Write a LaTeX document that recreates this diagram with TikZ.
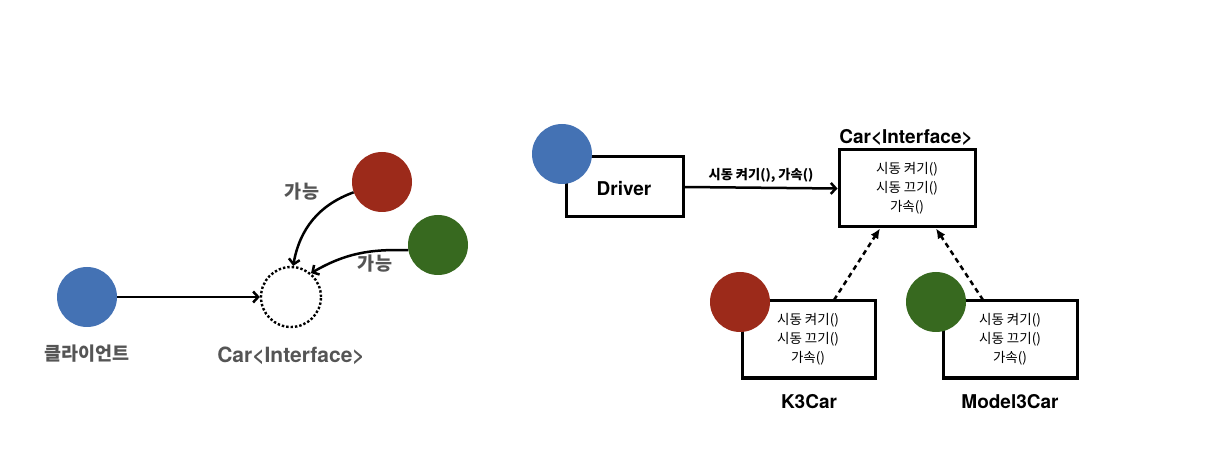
\documentclass[tikz,border=0pt]{standalone}
\usepackage{fontspec}
\setmainfont{TeX Gyre Heros}
\newfontfamily\kr{Noto Sans CJK KR}
\usetikzlibrary{arrows.meta}
\definecolor{cblue}{HTML}{4472B4}
\definecolor{cred}{HTML}{9C2A1A}
\definecolor{cgreen}{HTML}{37691F}
\definecolor{cgray}{HTML}{555555}
\tikzset{
  dot/.style={circle,minimum size=60pt,inner sep=0pt},
  box/.style={draw,line width=3pt,inner sep=0pt},
  glabel/.style={text=cgray,font=\fontsize{21}{24}\selectfont\bfseries},
  gkr/.style={text=cgray,font=\kr\fontsize{18.5}{22}\selectfont\bfseries},
  blabel/.style={font=\fontsize{19}{22}\selectfont\bfseries},
  meth/.style={font=\kr\fontsize{13.5}{19}\selectfont,align=center},
  conn/.style={line width=2.5pt,-{Straight Barb[length=5pt,width=11pt,line width=2.5pt]}},
  impl/.style={line width=2.5pt,dash pattern=on 5pt off 4pt,-{Latex[length=10pt,width=9pt]}},
}
\begin{document}
\begin{tikzpicture}[x=1pt,y=-1pt]
\useasboundingbox (0,0) rectangle (1232,454);
% left part
\node[dot,fill=cblue] (client) at (87,297) {};
\node[dot,draw,dotted,line width=2.4pt] (iface) at (291,297) {};
\node[dot,fill=cred] (redc) at (382,182) {};
\node[dot,fill=cgreen] (greenc) at (438,245) {};
\node[gkr] (clientlbl) at (87,354) {클라이언트};
\node[glabel] (ifacelbl) at (291,356) {Car<Interface>};
\node[gkr] (can1) at (302,192) {가능};
\node[gkr] (can2) at (375,264) {가능};
\draw[conn] (client.east) -- (iface.west);
\draw[conn] (redc.200) to[out=200,in=80] (iface.86);
\draw[conn] (greenc.190) to[out=178,in=30] (iface.50);
% right part
\node[box,minimum width=117pt,minimum height=60pt] (driver) at (624.5,187) {};
\node[dot,fill=cblue] (driverc) at (562,154) {};
\node[blabel] (drivertxt) at (624,189) {Driver};
\node[box,minimum width=136pt,minimum height=77pt] (car) at (907,188.5) {};
\node[blabel] (cartitle) at (906,137) {Car<Interface>};
\node[meth] (carm) at (907,188) {시동 켜기()\\시동 끄기()\\가속()};
\draw[conn] (driver.east) -- node[above=1pt,font=\kr\fontsize{13.2}{15}\selectfont\bfseries] (calllbl) {시동 켜기(), 가속()} (car.west);
\node[box,minimum width=133pt,minimum height=77pt] (k3) at (808.5,339.5) {};
\node[dot,fill=cred] (k3c) at (740,302) {};
\node[meth] (k3m) at (808,339) {시동 켜기()\\시동 끄기()\\가속()};
\node[blabel] (k3lbl) at (809,402) {K3Car};
\node[box,minimum width=134pt,minimum height=77pt] (m3) at (1010,339.5) {};
\node[dot,fill=cgreen] (m3c) at (936,302) {};
\node[meth] (m3m) at (1010,339) {시동 켜기()\\시동 끄기()\\가속()};
\node[blabel] (m3lbl) at (1010,402) {Model3Car};
\coordinate (k3top) at (834,300);
\coordinate (m3top) at (983,300);
\draw[impl] (k3top) -- (car.south -| 880,0);
\draw[impl] (m3top) -- (car.south -| 936,0);
\end{tikzpicture}
\end{document}
